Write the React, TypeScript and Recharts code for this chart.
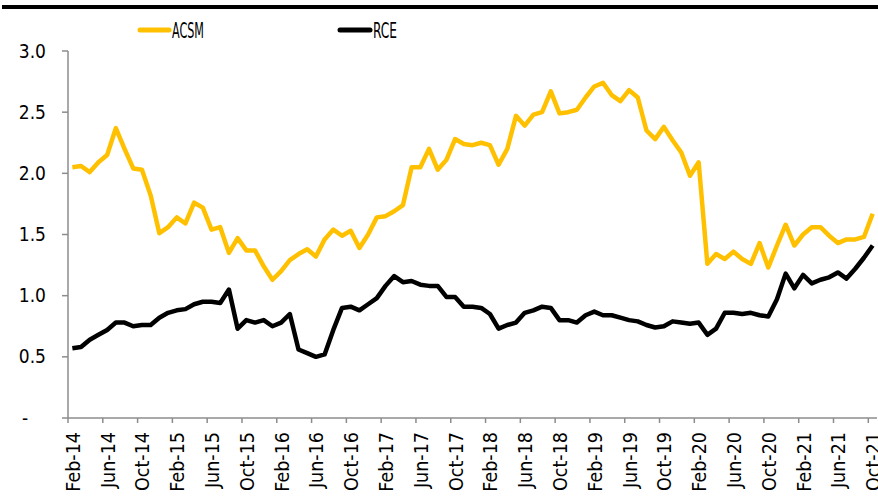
import React from 'react';
import { LineChart, Line, XAxis, YAxis } from 'recharts';

const MONTH_NAMES = ['Jan', 'Feb', 'Mar', 'Apr', 'May', 'Jun', 'Jul', 'Aug', 'Sep', 'Oct', 'Nov', 'Dec'];

// monthly points, Feb-14 .. Oct-21
const acsm = [
  2.05, 2.06, 2.01, 2.09, 2.15, 2.37, 2.2, 2.04, 2.03, 1.82, 1.51, 1.56, 1.64, 1.59, 1.76, 1.72,
  1.54, 1.56, 1.35, 1.47, 1.37, 1.37, 1.24, 1.13, 1.2, 1.29, 1.34, 1.38, 1.32, 1.46, 1.54, 1.49,
  1.53, 1.39, 1.5, 1.64, 1.65, 1.69, 1.74, 2.05, 2.05, 2.2, 2.03, 2.11, 2.28, 2.24, 2.23, 2.25,
  2.23, 2.07, 2.2, 2.47, 2.39, 2.48, 2.5, 2.67, 2.49, 2.5, 2.52, 2.62, 2.71, 2.74, 2.64, 2.59,
  2.68, 2.62, 2.35, 2.28, 2.38, 2.27, 2.17, 1.98, 2.09, 1.26, 1.34, 1.3, 1.36, 1.3, 1.26, 1.43,
  1.23, 1.41, 1.58, 1.41, 1.5, 1.56, 1.56, 1.49, 1.43, 1.46, 1.46, 1.48, 1.67,
];

const rce = [
  0.57, 0.58, 0.64, 0.68, 0.72, 0.78, 0.78, 0.75, 0.76, 0.76, 0.82, 0.86, 0.88, 0.89, 0.93, 0.95,
  0.95, 0.94, 1.05, 0.73, 0.8, 0.78, 0.8, 0.75, 0.78, 0.85, 0.56, 0.53, 0.5, 0.52, 0.72, 0.9,
  0.91, 0.88, 0.93, 0.98, 1.08, 1.16, 1.11, 1.12, 1.09, 1.08, 1.08, 0.99, 0.99, 0.91, 0.91, 0.9,
  0.85, 0.73, 0.76, 0.78, 0.86, 0.88, 0.91, 0.9, 0.8, 0.8, 0.78, 0.84, 0.87, 0.84, 0.84, 0.82,
  0.8, 0.79, 0.76, 0.74, 0.75, 0.79, 0.78, 0.77, 0.78, 0.68, 0.73, 0.86, 0.86, 0.85, 0.86, 0.84,
  0.83, 0.97, 1.18, 1.06, 1.17, 1.1, 1.13, 1.15, 1.19, 1.14, 1.22, 1.31, 1.41,
];

const xTickLabels = [
  'Feb-14', 'Jun-14', 'Oct-14', 'Feb-15', 'Jun-15', 'Oct-15', 'Feb-16', 'Jun-16',
  'Oct-16', 'Feb-17', 'Jun-17', 'Oct-17', 'Feb-18', 'Jun-18', 'Oct-18', 'Feb-19',
  'Jun-19', 'Oct-19', 'Feb-20', 'Jun-20', 'Oct-20', 'Feb-21', 'Jun-21', 'Oct-21',
];

const yTicks = [0, 0.5, 1, 1.5, 2, 2.5, 3];

const data = acsm.map((v, i) => {
  const m = (1 + i) % 12;
  const yr = 14 + Math.floor((1 + i) / 12);
  return { idx: i, month: `${MONTH_NAMES[m]}-${yr}`, acsm: v, rce: rce[i] };
});

// Excel date axis: tick sits at month start, point half a month later
const xTicks = xTickLabels.map((_, k) => k * 4 - 0.5);

const FONT = "'DejaVu Sans Condensed', 'DejaVu Sans', sans-serif";
const AXIS_GREY = '#8c8c8c';
const GOLD = '#FFC000';

const XTick = (props: any) => {
  const { x, y, payload } = props;
  const label = xTickLabels[Math.round((payload.value + 0.5) / 4)];
  return (
    <text
      x={x + 5}
      y={y + 7}
      transform={`rotate(-90, ${x + 5}, ${y + 7})`}
      textAnchor="end"
      dy="0.35em"
      fill="#000"
      fontSize={19.5}
      fontFamily={FONT}
    >
      {label}
    </text>
  );
};

const YTick = (props: any) => {
  const { x, y, payload } = props;
  if (payload.value === 0) {
    return (
      <text x={x - 35} y={y} dy="0.35em" textAnchor="middle" fontSize={19} fontFamily={FONT} fill="#000">
        -
      </text>
    );
  }
  return (
    <text x={x - 14} y={y} dy="0.35em" textAnchor="end" fontSize={19} fontFamily={FONT} fill="#000">
      {payload.value.toFixed(1)}
    </text>
  );
};

const LegendSvg = () => (
  <svg width={878} height={50} style={{ position: 'absolute', left: 0, top: 0 }}>
    <line x1={140} y1={30} x2={169} y2={30} stroke={GOLD} strokeWidth={5} strokeLinecap="round" />
    <text x={172} y={30} dy="0.36em" fontSize={21} fontFamily={FONT} textLength={32} lengthAdjust="spacingAndGlyphs">
      ACSM
    </text>
    <line x1={340} y1={30} x2={370} y2={30} stroke="#000" strokeWidth={5} strokeLinecap="round" />
    <text x={373} y={30} dy="0.36em" fontSize={21} fontFamily={FONT} textLength={24} lengthAdjust="spacingAndGlyphs">
      RCE
    </text>
  </svg>
);

export default function App() {
  return (
    <div
      style={{
        position: 'absolute',
        left: 0,
        top: 0,
        width: 878,
        height: 502,
        background: '#fff',
        overflow: 'hidden',
        fontFamily: FONT,
      }}
    >
      <div style={{ position: 'absolute', left: 2, top: 5, width: 876, height: 4, background: '#000' }} />
      <div style={{ position: 'absolute', left: 0, top: 0 }}>
        <LineChart width={878} height={502} data={data} margin={{ top: 51, right: 1, bottom: 0, left: 0 }}>
          <XAxis
            dataKey="idx"
            type="number"
            domain={[-0.5, 92.5]}
            ticks={xTicks}
            interval={0}
            height={84}
            tick={<XTick />}
            tickSize={5}
            axisLine={{ stroke: AXIS_GREY, strokeWidth: 1.5 }}
            tickLine={{ stroke: AXIS_GREY, strokeWidth: 1.5 }}
            allowDataOverflow
          />
          <YAxis
            domain={[0, 3]}
            ticks={yTicks}
            interval={0}
            width={68}
            tick={<YTick />}
            tickSize={6}
            axisLine={{ stroke: AXIS_GREY, strokeWidth: 1.5 }}
            tickLine={{ stroke: AXIS_GREY, strokeWidth: 1.5 }}
          />
          <Line
            type="linear"
            dataKey="acsm"
            stroke={GOLD}
            strokeWidth={4.5}
            strokeLinejoin="round"
            dot={false}
            isAnimationActive={false}
          />
          <Line
            type="linear"
            dataKey="rce"
            stroke="#000"
            strokeWidth={4.5}
            strokeLinejoin="round"
            dot={false}
            isAnimationActive={false}
          />
        </LineChart>
      </div>
      <LegendSvg />
    </div>
  );
}
